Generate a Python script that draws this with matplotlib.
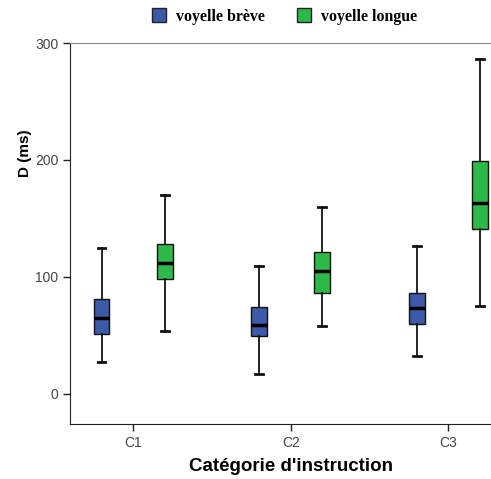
import matplotlib.pyplot as plt

# categories and series (in ms)
categories = ['C1', 'C2', 'C3']
series = ['voyelle brève', 'voyelle longue']
colors = ['#3d5aa8', '#2db84a']

# per series: whislo, q1, med, q3, whishi for C1, C2, C3
breve_lo = [27, 17, 32]
breve_q1 = [51, 49, 60]
breve_med = [65, 59, 73]
breve_q3 = [81, 74.5, 86.5]
breve_hi = [125, 109, 126]

longue_lo = [54, 58, 75]
longue_q1 = [98.5, 86.5, 141]
longue_med = [112, 105, 163]
longue_q3 = [128, 121, 199]
longue_hi = [170, 160, 286]

data = [
    (breve_lo, breve_q1, breve_med, breve_q3, breve_hi),
    (longue_lo, longue_q1, longue_med, longue_q3, longue_hi),
]

fig = plt.figure(figsize=(4.91, 4.79), dpi=100)
ax = fig.add_axes([0.1426, 0.1148, 0.8574, 0.7954])

offsets = [-0.2, 0.2]
for s, (lo, q1, med, q3, hi) in enumerate(data):
    stats = []
    for i in range(len(categories)):
        stats.append({'whislo': lo[i], 'q1': q1[i], 'med': med[i],
                      'q3': q3[i], 'whishi': hi[i], 'fliers': []})
    pos = [i + offsets[s] for i in range(len(categories))]
    ax.bxp(stats, positions=pos, widths=0.1, patch_artist=True,
           showfliers=False,
           boxprops=dict(facecolor=colors[s], edgecolor='#111111', linewidth=1.0),
           medianprops=dict(color='black', linewidth=2.5),
           whiskerprops=dict(color='#111111', linewidth=1.3),
           capprops=dict(color='#111111', linewidth=2.0),
           capwidths=0.05, manage_ticks=False)

ax.set_xlim(-0.4, 2.27)
ax.set_ylim(-26, 300)
ax.set_xticks(range(len(categories)))
ax.set_xticklabels(categories)
ax.set_yticks([0, 100, 200, 300])

ax.spines['right'].set_visible(False)
ax.spines['top'].set_color('#888888')
ax.spines['left'].set_color('#222222')
ax.spines['bottom'].set_color('#222222')
ax.tick_params(direction='out', length=5, width=1, colors='#222222',
               labelcolor='#444444', labelsize=10)
for lab in ax.get_xticklabels() + ax.get_yticklabels():
    lab.set_family('Liberation Sans')

ax.set_ylabel('D (ms)', fontsize=11, fontweight='bold', family='Liberation Sans')
ax.yaxis.set_label_coords(-0.09, 0.71)
ax.set_xlabel("Catégorie d'instruction", fontsize=13.5, fontweight='bold',
              family='Liberation Sans')
ax.xaxis.set_label_coords(0.525, -0.088)

handles = [plt.Line2D([], [], marker='s', linestyle='none', markersize=10,
                      markerfacecolor=c, markeredgecolor='#222222')
           for c in colors]
fig.legend(handles, series, loc='center', bbox_to_anchor=(0.571, 0.965),
           ncol=2, frameon=False, handletextpad=0.1, columnspacing=1.45,
           prop={'family': 'Liberation Serif', 'weight': 'bold', 'size': 11.4})

fig.savefig('out.png', dpi=100)
